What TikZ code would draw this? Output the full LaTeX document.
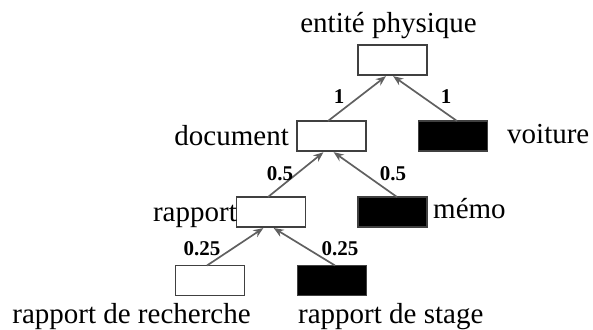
\documentclass[tikz,border=0pt]{standalone}
\usepackage{fontspec}
\setmainfont{Liberation Serif}
\usetikzlibrary{arrows.meta}
\definecolor{edgegray}{HTML}{606060}
\definecolor{boxgray}{HTML}{404040}
\tikzset{
  cls/.style={draw=boxgray, line width=1.5pt, fill=white, minimum width=69pt, minimum height=30pt, inner sep=0pt, outer sep=0pt},
  inst/.style={cls, fill=black},
  lbl/.style={font=\fontsize{29}{29}\selectfont, inner sep=0pt, anchor=base},
  wt/.style={font=\fontsize{21}{21}\selectfont\bfseries, inner sep=0pt, anchor=base},
  link/.style={draw=edgegray, line width=1.7pt, -{Stealth[length=10pt,width=8pt]}, shorten >=2pt}
}
\begin{document}
\begin{tikzpicture}[x=1pt,y=-1pt]
\useasboundingbox (0,0) rectangle (593,329);
% boxes
\node[cls]  (ep)   at (392.5,60) {};
\node[cls]  (doc)  at (331.5,136) {};
\node[inst] (voit) at (453,136) {};
\node[cls]  (rap)  at (271,212) {};
\node[inst] (memo) at (392.5,212) {};
\node[cls]  (rr)   at (210,280.5) {};
\node[inst] (rs)   at (332,280.5) {};
% labels
\node[lbl] (tep)   at (388.5,33) {entité physique};
\node[lbl, anchor=base east] (tdoc) at (289,145) {document};
\node[lbl, anchor=base west] (tvoit) at (507,143) {voiture};
\node[lbl, anchor=base east] (trap) at (237,221) {rapport};
\node[lbl, anchor=base west] (tmemo) at (433,218) {mémo};
\node[lbl] (trr) at (131.5,323) {rapport de recherche};
\node[lbl, anchor=base west] (trs) at (298,323) {rapport de stage};
% arrows
\draw[link] ([xshift=-3.5pt]doc.north) -- ([xshift=-5pt]ep.south);
\draw[link] ([xshift=4pt]voit.north) -- ([xshift=-1pt]ep.south);
\draw[link] ([xshift=-3pt]rap.north) -- ([xshift=-6.5pt]doc.south);
\draw[link] ([xshift=4.5pt]memo.north) -- ([xshift=0.5pt]doc.south);
\draw[link] ([xshift=-3pt]rr.north) -- ([xshift=-6pt]rap.south);
\draw[link] ([xshift=3pt]rs.north) -- ([xshift=1pt]rap.south);
% weights
\node[wt] (w1) at (339,103) {1};
\node[wt] (w2) at (446,103) {1};
\node[wt] (w3) at (280,180) {0.5};
\node[wt] (w4) at (393,180) {0.5};
\node[wt] (w5) at (202,255) {0.25};
\node[wt] (w6) at (340,255) {0.25};
\end{tikzpicture}
\end{document}
